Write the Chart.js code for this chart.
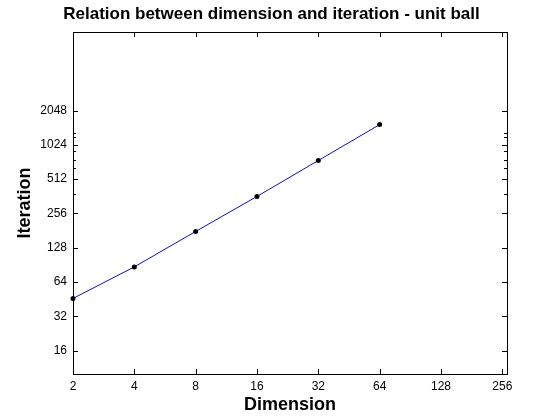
<!DOCTYPE html>
<html lang="en">
<head>
  <meta charset="UTF-8">
  <title>Dimension vs iteration</title>
  <script src="https://cdn.jsdelivr.net/npm/chart.js"></script>
  <style>
    body {
      margin: 0;
      background-color: #ffffff;
    }
    canvas {
      display: block;
    }
  </style>
</head>
<body>
  <canvas id="ballChart" width="560" height="420"></canvas>

  <script>
    // data
    const dimensions = [2, 4, 8, 16, 32, 64];
    const iterations = [46, 87, 178, 361, 746, 1541];

    // tick labels
    const xTicks = [2, 4, 8, 16, 32, 64, 128, 256];
    const yTicks = [16, 32, 64, 128, 256, 512, 1024, 2048];
    // the few unlabelled minor ticks the original shows on the y axis
    const yMinorTicks = [380, 640, 760, 910, 1200, 1290];

    const FONT = 'Arial, "Liberation Sans", sans-serif';

    // matlab style box with inward ticks on all four sides
    const boxPlugin = {
      id: 'box',
      afterDraw(chart) {
        const { ctx, chartArea: a, scales } = chart;
        ctx.save();
        ctx.strokeStyle = '#000';
        ctx.lineWidth = 1;
        ctx.beginPath();
        xTicks.forEach(v => {
          const px = Math.round(scales.x.getPixelForValue(v)) + 0.5;
          ctx.moveTo(px, a.bottom); ctx.lineTo(px, a.bottom - 5);
          ctx.moveTo(px, a.top); ctx.lineTo(px, a.top + 5);
        });
        const yMark = (v, len) => {
          const py = Math.round(scales.y.getPixelForValue(v)) + 0.5;
          ctx.moveTo(a.left, py); ctx.lineTo(a.left + len, py);
          ctx.moveTo(a.right, py); ctx.lineTo(a.right - len, py);
        };
        yTicks.forEach(v => yMark(v, 5));
        yMinorTicks.forEach(v => yMark(v, 3));
        ctx.stroke();
        ctx.strokeRect(Math.round(a.left) + 0.5, Math.round(a.top) + 0.5,
          Math.round(a.right - a.left), Math.round(a.bottom - a.top));
        ctx.restore();
      }
    };

    new Chart(document.getElementById('ballChart'), {
      type: 'line',
      data: {
        datasets: [{
          data: dimensions.map((d, i) => ({ x: d, y: iterations[i] })),
          borderColor: '#1010c0',
          borderWidth: 1,
          pointBackgroundColor: '#000',
          pointBorderColor: '#000',
          pointRadius: 2.5,
          pointBorderWidth: 0,
          fill: false,
          tension: 0,
          clip: false
        }]
      },
      options: {
        responsive: false,
        animation: false,
        // left padding shifts the title so it sits centred like the original
        layout: { padding: { left: 36, right: 53, top: 0, bottom: 0 } },
        plugins: {
          legend: { display: false },
          tooltip: { enabled: false },
          title: {
            display: true,
            text: 'Relation between dimension and iteration - unit ball',
            color: '#000',
            font: { family: FONT, size: 17, weight: 'bold' },
            padding: { top: 4, bottom: 7.6 }
          }
        },
        scales: {
          x: {
            type: 'logarithmic',
            min: 2,
            max: 270,
            afterBuildTicks: s => { s.ticks = xTicks.map(v => ({ value: v })); },
            afterFit: s => { s.height = 46; },
            grid: { drawOnChartArea: false, drawTicks: false, display: false },
            border: { display: false },
            ticks: {
              color: '#000',
              font: { family: FONT, size: 12 },
              padding: 5,
              maxRotation: 0,
              callback: v => String(v)
            },
            title: {
              display: true,
              text: 'Dimension',
              color: '#000',
              font: { family: FONT, size: 18, weight: 'bold' },
              padding: { top: 0, bottom: 4 }
            }
          },
          y: {
            type: 'logarithmic',
            min: 10,
            max: 10000,
            afterBuildTicks: s => { s.ticks = yTicks.map(v => ({ value: v })); },
            afterFit: s => { s.width = 37; },
            grid: { drawOnChartArea: false, drawTicks: false, display: false },
            border: { display: false },
            ticks: {
              color: '#000',
              font: { family: FONT, size: 12 },
              padding: 6,
              callback: v => String(v)
            },
            title: {
              display: true,
              text: 'Iteration',
              color: '#000',
              font: { family: FONT, size: 18, weight: 'bold' },
              padding: { top: -22, bottom: 0 }
            }
          }
        }
      },
      plugins: [boxPlugin]
    });
  </script>
</body>
</html>
